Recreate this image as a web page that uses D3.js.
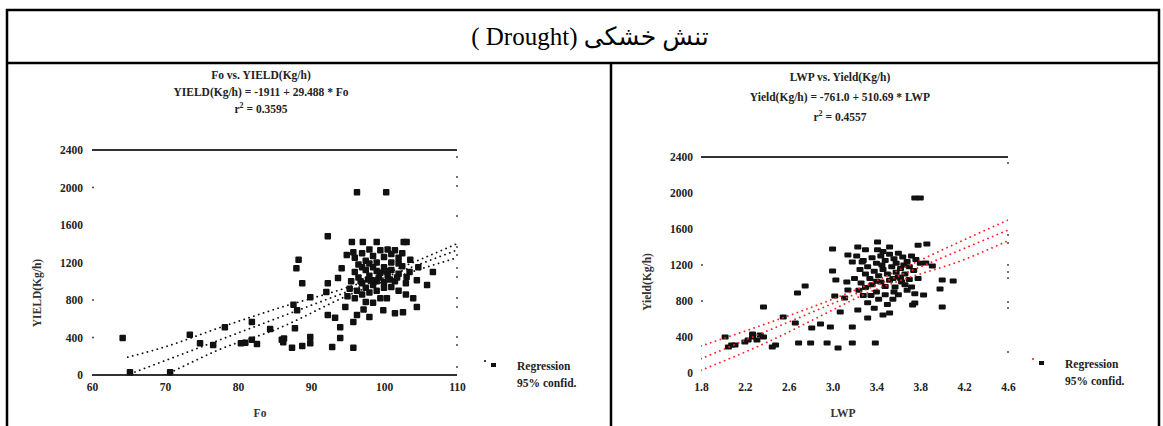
<!DOCTYPE html>
<html>
<head>
<meta charset="utf-8">
<script src="https://cdn.jsdelivr.net/npm/d3@7"></script>
<style>
  body { margin: 0; background: #fff; }
  text { font-family: 'Liberation Serif', 'Times New Roman', serif; }
</style>
</head>
<body>
<div id="chart"></div>
<script>
// ---------- data ----------
var headerText = "تنش خشکی (Drought )";

var yTicks = [0, 400, 800, 1200, 1600, 2000, 2400];
var foTicks = [60, 70, 80, 90, 100, 110];
var lwpTicks = [1.8, 2.2, 2.6, 3.0, 3.4, 3.8, 4.2, 4.6];

// Fo vs yield
var foPoints = [
  [64.2,395],[65.2,30],[70.7,30],[73.4,430],[74.8,340],[76.6,320],[78.2,510],[80.4,340],
  [81.0,345],[81.9,375],[82.6,330],[81.9,565],[84.4,490],[86.0,375],[86.3,390],[86.2,350],
  [87.4,290],[88.8,310],[89.9,405],[89.9,340],[88.3,1230],[88.0,1140],[88.8,980],[89.9,830],
  [87.6,750],[88.1,690],[87.8,500],[92.3,1480],[92.9,300],[95.8,290],[94.0,395],[94.0,510],
  [92.3,640],[93.3,610],[94.7,725],[95.8,565],[96.3,640],[92.3,980],[92.1,885],[93.7,1035],
  [94.2,1140],[94.9,1280],[95.8,1310],[96.3,1950],[100.3,1950],[95.6,1420],[97.1,1420],
  [99.0,1420],[102.7,1420],[103.1,1420],
  [96.0,1250],[96.5,1180],[97.0,1300],[97.5,1220],[98.0,1340],[98.5,1270],[99.0,1200],
  [99.5,1330],[100.0,1260],[100.5,1340],[101.0,1290],[101.5,1330],[102.0,1250],[102.5,1300],
  [103.6,1230],[104.7,1150],[103.1,1045],[104.5,1010],[105.9,960],[106.7,1100],[104.0,820],
  [104.5,725],[102.6,670],[101.5,660],[99.9,690],[98.5,770],[100.4,820],
  [96.0,1100],[96.5,1040],[97.0,980],[97.5,1120],[98.0,1060],[98.5,1150],[99.0,1000],
  [99.5,1090],[100.0,1150],[100.5,1060],[101.0,1120],[101.5,1000],[102.0,1080],[102.5,1160],
  [103.0,980],[100.0,990],[99.0,1110],[98.0,1190],[97.0,1150],[101.0,1200],[102.0,1190],
  [103.5,1100],[96.3,900],[97.0,860],[97.5,930],[98.0,880],[99.0,900],[96.0,820],[97.5,780],
  [98.5,960],[100.0,930],[101.0,940],[102.0,900],[103.0,860],[99.5,820],[96.8,1000],
  [95.5,1000],[95.3,920],[95.0,840],[97.8,1020],[100.8,1020],[101.8,1040],[99.3,1040],
  [98.3,1010],[100.3,1110],[97.2,700],[98.0,620]
];

// LWP vs yield
var lwpPoints = [
  [3.75,1945],[3.80,1945],[3.00,1378],[3.23,1400],[3.41,1456],[3.41,1370],[3.52,1400],
  [3.86,1433],[3.78,1420],[3.14,1311],[3.27,1233],[3.18,1233],[3.00,1133],[3.03,1033],
  [3.13,1011],[3.14,922],[3.02,856],[3.11,833],[3.07,678],[3.23,700],[3.32,611],[3.46,644],
  [3.52,667],[3.18,511],[3.39,333],[3.18,333],[3.05,278],[2.95,333],[2.80,333],[2.69,333],
  [2.81,500],[2.89,544],[2.98,511],[2.66,556],[2.55,622],[2.68,889],[2.75,967],[2.37,733],
  [2.48,311],[2.45,289],[2.37,400],[2.34,422],[2.27,400],[2.23,367],[2.20,344],[2.31,367],
  [2.27,433],[2.02,400],[2.08,311],[2.11,311],[2.05,289],[3.73,756],[3.75,778],[4.00,733],
  [4.00,1033],[3.98,933],[4.10,1022],[3.72,956],[3.83,867],[3.91,1189],[3.85,1222],
  [3.57,956],[3.63,1011],[3.60,1067],
  [3.22,1300],[3.28,1250],[3.32,1180],[3.36,1280],[3.40,1220],[3.44,1300],[3.48,1250],
  [3.52,1320],[3.56,1270],[3.60,1330],[3.64,1290],[3.68,1240],[3.72,1300],[3.76,1260],
  [3.80,1220],[3.30,1100],[3.34,1050],[3.38,1130],[3.42,1080],[3.46,1150],[3.50,1100],
  [3.54,1180],[3.58,1120],[3.62,1160],[3.66,1100],[3.70,1180],[3.74,1140],[3.26,1000],
  [3.30,950],[3.36,980],[3.40,900],[3.44,1010],[3.48,960],[3.52,1030],[3.56,900],
  [3.62,1050],[3.66,980],[3.70,1040],[3.35,860],[3.42,820],[3.48,870],[3.55,820],
  [3.24,920],[3.20,1050],[3.25,1150],[3.45,1200],[3.58,1220],[3.68,920],[3.78,1050],
  [3.75,880],[3.32,780],[3.38,720],[3.28,860],[3.50,760],[3.60,870],[3.40,1020],
  [3.46,1350],[3.30,1370],[3.55,1050],[3.65,1200]
];

// regressions as printed on the charts
var foFit = { intercept: -1911, slope: 29.488, r2: "0.3595" };
var lwpFit = { intercept: -761.0, slope: 510.69, r2: "0.4557" };

// 95% confidence bands, read at a few x positions
var foUpper = [[64.9,190],[70,300],[77.3,500],[85,700],[96,960],[110,1400]];
var foLower = [[70,0],[72.3,85],[77.3,267],[85,480],[96,880],[110,1250]];
var lwpUpper = [[1.8,300],[2.4,550],[3.0,820],[3.3,970],[3.6,1140],[4.2,1480],[4.6,1700]];
var lwpLower = [[1.8,30],[2.4,340],[3.0,700],[3.3,880],[3.6,1020],[4.2,1260],[4.6,1470]];

// stray dots of the right-hand axis in the scan
var foEdgeDots = [2325,2112,2016,1696,1365,1280,1141,1045,821,725,405,320,85];
var lwpEdgeDots = [2333,1533,1444,1200,1122,1056,789,722,233];

// ---------- drawing ----------
var W = 1163, H = 426;
var svg = d3.select('#chart').append('svg')
  .attr('width', W).attr('height', H);

// table frame
var frame = svg.append('g').attr('stroke', '#000').attr('stroke-width', 2.5);
frame.append('line').attr('x1', 6).attr('x2', 1160).attr('y1', 10).attr('y2', 10);
frame.append('line').attr('x1', 6).attr('x2', 1160).attr('y1', 63).attr('y2', 63);
frame.append('line').attr('x1', 7).attr('x2', 7).attr('y1', 9).attr('y2', H);
frame.append('line').attr('x1', 1159).attr('x2', 1159).attr('y1', 9).attr('y2', H);
frame.append('line').attr('x1', 611).attr('x2', 611).attr('y1', 63).attr('y2', H);

svg.append('text')
  .attr('x', 590).attr('y', 45)
  .attr('text-anchor', 'middle')
  .attr('direction', 'rtl')
  .style('direction', 'rtl')
  .attr('font-size', 25)
  .style('font-family', "'Liberation Serif', 'DejaVu Sans', serif")
  .text(headerText);

var clipN = 0;
function panel(cfg) {
  var g = svg.append('g');
  var x = d3.scaleLinear().domain(cfg.xDomain).range(cfg.xRange);
  var y = d3.scaleLinear().domain([0, 2400]).range(cfg.yRange);

  var id = 'clip' + (clipN++);
  svg.append('defs').append('clipPath').attr('id', id)
    .append('rect')
      .attr('x', cfg.xRange[0]).attr('y', cfg.yRange[1])
      .attr('width', cfg.xRange[1] - cfg.xRange[0])
      .attr('height', cfg.yRange[0] - cfg.yRange[1]);

  // titles
  var tg = g.append('g').attr('font-weight', 'bold').attr('font-size', 11.5)
    .attr('text-anchor', 'middle').attr('fill', '#222');
  tg.append('text').attr('x', cfg.cx).attr('y', cfg.titleY).text(cfg.title);
  tg.append('text').attr('x', cfg.cx).attr('y', cfg.titleY + cfg.lineGap).text(cfg.equation);
  var r2 = tg.append('text').attr('x', cfg.cx).attr('y', cfg.titleY + 2 * cfg.lineGap);
  r2.append('tspan').text('r');
  r2.append('tspan').attr('dy', -5).attr('font-size', 8).text('2');
  r2.append('tspan').attr('dy', 5).text(' = ' + cfg.fit.r2);

  // frame lines of the plot (top always, bottom only on the left chart)
  g.append('line')
    .attr('x1', cfg.xRange[0]).attr('x2', cfg.xRange[1])
    .attr('y1', y(2400)).attr('y2', y(2400))
    .attr('stroke', '#333').attr('stroke-width', 2);
  if (cfg.bottomLine) {
    g.append('line')
      .attr('x1', cfg.xRange[0]).attr('x2', cfg.xRange[1])
      .attr('y1', y(0)).attr('y2', y(0))
      .attr('stroke', '#333').attr('stroke-width', 2);
  }

  // y axis labels
  var ya = g.append('g')
    .attr('transform', 'translate(' + cfg.yLabelX + ',0)')
    .call(d3.axisLeft(y).tickValues(yTicks).tickSize(0).tickPadding(0)
      .tickFormat(d3.format('d')));
  ya.select('.domain').remove();
  ya.selectAll('text').attr('font-size', 11.5).attr('font-weight', 'bold')
    .attr('fill', '#222').style('font-family', "'Liberation Serif', serif");

  // tiny tick dots
  g.selectAll('.tdot').data(cfg.tickDots).enter().append('circle')
    .attr('cx', cfg.xRange[0] + 1).attr('cy', function(d){ return y(d); })
    .attr('r', 1).attr('fill', '#444');

  // x axis labels
  var xa = g.append('g')
    .attr('transform', 'translate(0,' + cfg.xLabelY + ')')
    .call(d3.axisBottom(x).tickValues(cfg.xTicks).tickSize(0).tickPadding(0)
      .tickFormat(cfg.xFormat));
  xa.select('.domain').remove();
  xa.selectAll('text').attr('font-size', 11.5).attr('font-weight', 'bold')
    .attr('fill', '#222').style('font-family', "'Liberation Serif', serif");

  // axis titles
  g.append('text').attr('x', cfg.xTitle[0]).attr('y', cfg.xTitle[1])
    .attr('text-anchor', 'middle').attr('font-size', 11.5).attr('font-weight', 'bold')
    .attr('fill', '#333').text(cfg.xLabel);
  g.append('text')
    .attr('transform', 'translate(' + cfg.yTitle[0] + ',' + cfg.yTitle[1] + ') rotate(-90)')
    .attr('text-anchor', 'middle').attr('font-size', 11.5).attr('font-weight', 'bold')
    .attr('fill', '#333').text(cfg.yLabel);

  // right edge dots
  g.selectAll('.edot').data(cfg.edgeDots).enter().append('circle')
    .attr('cx', cfg.xRange[1]).attr('cy', function(d){ return y(d); })
    .attr('r', 1).attr('fill', '#444');

  // points
  g.append('g').selectAll('rect').data(cfg.points).enter().append('rect')
    .attr('x', function(d){ return x(d[0]) - cfg.mw / 2; })
    .attr('y', function(d){ return y(d[1]) - cfg.mh / 2; })
    .attr('width', cfg.mw).attr('height', cfg.mh)
    .attr('rx', 1)
    .attr('fill', '#111');

  // regression + bands as dotted lines
  var line = d3.line()
    .x(function(d){ return x(d[0]); })
    .y(function(d){ return y(d[1]); })
    .curve(d3.curveMonotoneX);
  var fitPts = cfg.xDomain.map(function(v){ return [v, cfg.fit.intercept + cfg.fit.slope * v]; });
  var lg = g.append('g').attr('clip-path', 'url(#' + id + ')');
  [fitPts, cfg.upper, cfg.lower].forEach(function(pts){
    lg.append('path').attr('d', line(pts))
      .attr('fill', 'none')
      .attr('stroke', cfg.lineColor)
      .attr('stroke-width', 1.8)
      .attr('stroke-linecap', 'round')
      .attr('stroke-dasharray', '0.1 5');
  });

  // legend
  var lgd = g.append('g').attr('transform', 'translate(' + cfg.legend[0] + ',' + cfg.legend[1] + ')');
  lgd.append('circle').attr('cx', 0).attr('cy', -5).attr('r', 1.1).attr('fill', cfg.lineColor);
  lgd.append('rect').attr('x', 6).attr('y', -3).attr('width', 5).attr('height', 4).attr('fill', '#111');
  lgd.append('text').attr('x', 32).attr('y', 4).attr('font-size', 11.5).attr('font-weight', 'bold')
    .attr('fill', '#222').text('Regression');
  lgd.append('text').attr('x', 32).attr('y', 21).attr('font-size', 11.5).attr('font-weight', 'bold')
    .attr('fill', '#222').text('95% confid.');
}

panel({
  xDomain: [60, 110], xRange: [92, 457], yRange: [375, 150],
  xTicks: foTicks, xFormat: d3.format('d'),
  cx: 261, titleY: 79, lineGap: 17,
  title: 'Fo vs. YIELD(Kg/h)',
  equation: 'YIELD(Kg/h) = -1911 + 29.488 * Fo',
  fit: foFit, upper: foUpper, lower: foLower,
  points: foPoints, mw: 6.5, mh: 6.5,
  yLabelX: 83, xLabelY: 383, tickDots: [2000, 800, 400],
  xTitle: [260, 417], xLabel: 'Fo',
  yTitle: [41, 293], yLabel: 'YIELD(Kg/h)',
  edgeDots: foEdgeDots, bottomLine: true,
  lineColor: '#111', legend: [485, 366]
});

panel({
  xDomain: [1.8, 4.6], xRange: [701, 1008], yRange: [373, 157],
  xTicks: lwpTicks, xFormat: d3.format('.1f'),
  cx: 840, titleY: 81, lineGap: 20,
  title: 'LWP vs. Yield(Kg/h)',
  equation: 'Yield(Kg/h) = -761.0 + 510.69 * LWP',
  fit: lwpFit, upper: lwpUpper, lower: lwpLower,
  points: lwpPoints, mw: 7, mh: 5,
  yLabelX: 693, xLabelY: 383, tickDots: [1200, 800],
  xTitle: [843, 417], xLabel: 'LWP',
  yTitle: [651, 282], yLabel: 'Yield(Kg/h)',
  edgeDots: lwpEdgeDots, bottomLine: false,
  lineColor: '#f22', legend: [1033, 364]
});
</script>
</body>
</html>
